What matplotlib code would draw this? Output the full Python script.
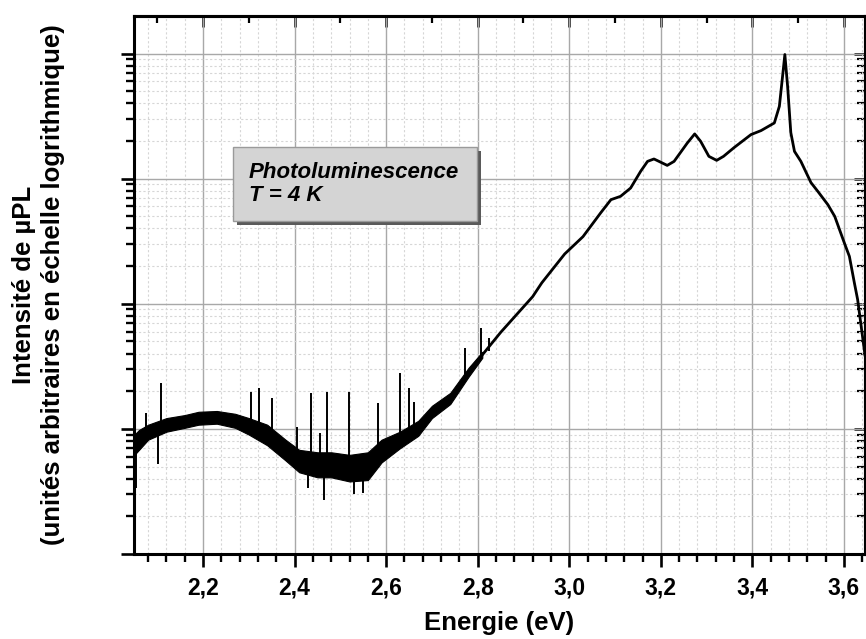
import matplotlib
matplotlib.use("Agg")
import matplotlib.pyplot as plt
from matplotlib.ticker import MultipleLocator, LogLocator, NullFormatter
from matplotlib.patches import Rectangle

plt.rcParams['font.family'] = ['Liberation Sans', 'DejaVu Sans']

# spectrum centre line (eV, arb. units)
energy = [2.05, 2.06, 2.08, 2.12, 2.16, 2.19, 2.23, 2.27, 2.30, 2.34, 2.38,
          2.41, 2.45, 2.48, 2.52, 2.56, 2.59, 2.63, 2.67, 2.70, 2.74, 2.78,
          2.81, 2.85, 2.92, 2.94, 2.99, 3.03, 3.069, 3.091, 3.112, 3.134,
          3.156, 3.171, 3.185, 3.196, 3.214, 3.229, 3.258, 3.274, 3.287,
          3.305, 3.322, 3.337, 3.36, 3.397, 3.419, 3.448, 3.459, 3.466,
          3.471, 3.477, 3.484, 3.492, 3.506, 3.528, 3.543, 3.565, 3.58,
          3.601, 3.612, 3.623, 3.63, 3.646]
intensity = [8.4, 8.2, 9.5, 10.8, 11.4, 12.2, 12.5, 11.4, 10.4, 9.0, 6.8,
             5.6, 5.3, 5.4, 5.2, 5.3, 6.8, 8.2, 10.2, 13.7, 17.7, 28.6,
             39, 59, 114, 147, 250, 344, 535, 679, 722, 841,
             1145, 1374, 1436, 1374, 1276, 1374, 1929, 2277, 1987,
             1507, 1400, 1507, 1770, 2249, 2421, 2786, 3786, 6577,
             9817, 5470, 2333, 1652, 1374, 930, 791, 619, 499,
             306, 239, 146, 108, 39]

# noise band envelope in the low energy part
noise_e = [2.05, 2.06, 2.08, 2.12, 2.16, 2.19, 2.23, 2.27, 2.30, 2.34, 2.38,
           2.41, 2.45, 2.48, 2.52, 2.56, 2.59, 2.63, 2.67, 2.70, 2.74, 2.78,
           2.81]
noise_hi = [9.0, 9.8, 10.8, 12.2, 12.9, 13.7, 13.9, 13.2, 12.2, 10.8, 8.2,
            6.8, 6.5, 6.5, 6.2, 6.5, 8.2, 9.5, 11.6, 15.3, 19.4, 30.8, 41.3]
noise_lo = [6.2, 6.8, 8.2, 9.5, 10.2, 10.8, 11.0, 10.2, 9.0, 7.4, 5.6,
            4.5, 4.1, 4.1, 3.8, 3.9, 5.4, 7.0, 8.8, 12.2, 15.8, 26.1, 37.0]

# narrow spikes: energy, base, tip
spike_e = [2.053, 2.075, 2.102, 2.108, 2.305, 2.323, 2.351, 2.406, 2.430,
           2.436, 2.456, 2.465, 2.471, 2.519, 2.530, 2.550, 2.583, 2.631,
           2.649, 2.660, 2.773, 2.808, 2.824]
spike_base = [8.5, 9.3, 10.0, 10.3, 10.4, 9.8, 8.5, 5.8, 5.4,
              5.4, 5.3, 5.3, 5.4, 5.2, 5.2, 5.3, 6.2, 8.2,
              9.0, 9.6, 27.5, 37.5, 42]
spike_tip = [3.4, 13.4, 5.2, 23.3, 19.8, 21.3, 17.7, 10.4, 3.4,
             19.4, 9.3, 2.7, 19.8, 19.8, 3.0, 3.1, 16.1, 28.1,
             21.3, 16.4, 44.5, 64.3, 53.5]

x_ticks = [2.2, 2.4, 2.6, 2.8, 3.0, 3.2, 3.4, 3.6]
x_tick_labels = ['2,2', '2,4', '2,6', '2,8', '3,0', '3,2', '3,4', '3,6']

fig = plt.figure(figsize=(8.66, 6.39), dpi=100)
ax = fig.add_axes([0.1547, 0.133, 0.8441, 0.842])

ax.fill_between(noise_e, noise_lo, noise_hi, color='black', lw=0.8, zorder=3)
ax.plot(energy, intensity, color='black', lw=2.0, zorder=3)
ax.vlines(spike_e, spike_base, spike_tip, color='black', lw=1.4, zorder=3)

ax.set_yscale('log')
ax.set_xlim(2.049, 3.646)
ax.set_ylim(1, 10 ** 4.3)

ax.set_xticks(x_ticks, labels=x_tick_labels)
ax.xaxis.set_minor_locator(MultipleLocator(0.04))
ax.yaxis.set_major_locator(LogLocator(base=10))
ax.yaxis.set_minor_locator(LogLocator(base=10, subs=range(2, 10)))
ax.yaxis.set_major_formatter(NullFormatter())
ax.yaxis.set_minor_formatter(NullFormatter())

ax.set_axisbelow(True)
ax.grid(which='major', color='#a8a8a8', lw=1.0)
ax.grid(which='minor', color='#d6d6d6', lw=0.8, ls=(0, (2, 2)))

for s in ax.spines.values():
    s.set_linewidth(2.2)
ax.tick_params(which='major', direction='out', length=9.5, width=1.9)
ax.tick_params(which='minor', direction='out', length=6, width=1.7)
ax.tick_params(axis='x', labelsize=16.5, pad=7)
for lab in ax.get_xticklabels():
    lab.set_fontweight('bold')

top = ax.secondary_xaxis('top')
top.xaxis.set_major_locator(MultipleLocator(0.2))
top.xaxis.set_minor_locator(MultipleLocator(0.1))
top.tick_params(which='major', direction='in', length=8, width=1.8, labeltop=False)
top.tick_params(which='minor', direction='in', length=5, width=1.6)
top.spines['top'].set_linewidth(2.2)

right = ax.secondary_yaxis('right')
right.yaxis.set_major_locator(LogLocator(base=10))
right.yaxis.set_minor_locator(LogLocator(base=10, subs=range(2, 10)))
right.yaxis.set_major_formatter(NullFormatter())
right.yaxis.set_minor_formatter(NullFormatter())
right.tick_params(which='major', direction='in', length=8, width=1.8)
right.tick_params(which='minor', direction='in', length=6, width=1.6)
right.spines['right'].set_linewidth(2.2)

ax.set_xlabel('Energie (eV)', fontsize=18.5, fontweight='bold', labelpad=8)
ax.set_ylabel('Intensité de µPL\n(unités arbitraires en échelle logrithmique)',
              fontsize=18.5, fontweight='bold', labelpad=37, linespacing=1.25)

# label box with shadow
ax.add_patch(Rectangle((0.141, 0.611), 0.334, 0.138, transform=ax.transAxes,
                       facecolor='#5a5a5a', edgecolor='none', zorder=5))
ax.add_patch(Rectangle((0.135, 0.619), 0.334, 0.138, transform=ax.transAxes,
                       facecolor='#d4d4d4', edgecolor='#9a9a9a', lw=1.0, zorder=6))
ax.text(0.157, 0.688, 'Photoluminescence\nT = 4 K', transform=ax.transAxes,
        fontsize=16, fontweight='bold', fontstyle='italic', va='center',
        ha='left', linespacing=1.15, zorder=7)

fig.savefig('out.png', dpi=100)
